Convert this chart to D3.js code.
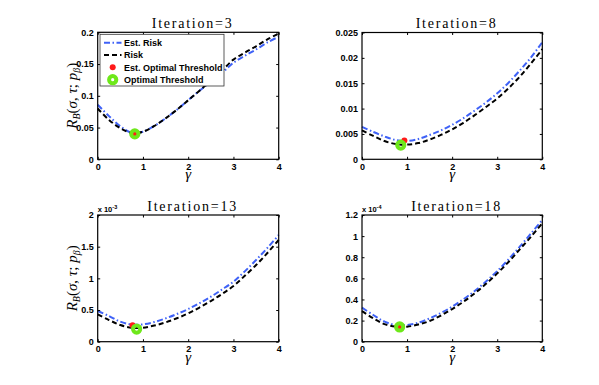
<!DOCTYPE html>
<html><head><meta charset="utf-8">
<script src="https://cdn.jsdelivr.net/npm/d3@7"></script>
<style>
html,body{margin:0;padding:0;background:#fff;}
svg{display:block;}
</style></head>
<body>
<script>
// ---------- data ----------
const gamma = [0,0.25,0.5,0.75,1,1.25,1.5,1.75,2,2.25,2.5,2.75,3,3.25,3.5,3.75,4];
const titles = ["Iteration=3","Iteration=8","Iteration=13","Iteration=18"];
const xTicks = [0,1,2,3,4];
// iteration 3
const risk3    = [0.080,0.062,0.049,0.0415,0.0435,0.0525,0.0645,0.078,0.093,0.108,0.124,0.140,0.157,0.168,0.178,0.189,0.198];
const estRisk3 = [0.086,0.068,0.052,0.042,0.0435,0.0525,0.0645,0.078,0.093,0.108,0.122,0.136,0.152,0.163,0.173,0.184,0.193];
// iteration 8
const risk8    = [0.0057,0.0046,0.0036,0.0030,0.0029,0.0032,0.0039,0.0048,0.0059,0.0072,0.0087,0.0103,0.0120,0.0140,0.0163,0.0189,0.0217];
const estRisk8 = [0.0064,0.0054,0.0045,0.0038,0.0036,0.0040,0.0048,0.0057,0.0068,0.0081,0.0096,0.0112,0.0130,0.0151,0.0175,0.0201,0.0231];
// iteration 13 (x 10^-3)
const risk13    = [0.43,0.342,0.263,0.222,0.221,0.255,0.305,0.37,0.447,0.54,0.642,0.755,0.879,1.04,1.21,1.40,1.605];
const estRisk13 = [0.484,0.405,0.316,0.272,0.274,0.31,0.368,0.437,0.516,0.608,0.71,0.825,0.947,1.11,1.29,1.48,1.684];
// iteration 18 (x 10^-4)
const risk18    = [0.29,0.221,0.167,0.143,0.142,0.163,0.196,0.248,0.309,0.378,0.458,0.548,0.647,0.755,0.875,0.995,1.121];
const estRisk18 = [0.322,0.253,0.19,0.158,0.158,0.18,0.221,0.272,0.332,0.402,0.48,0.57,0.669,0.78,0.9,1.025,1.153];
// thresholds [gamma, value]
const estOpt = [[0.82,0.040],[0.94,0.0037],[0.77,0.26],[0.835,0.14]];
const opt    = [[0.82,0.040],[0.86,0.0028],[0.86,0.20],[0.835,0.14]];
const yTicks = [
  [0,0.05,0.1,0.15,0.2],
  [0,0.005,0.01,0.015,0.02,0.025],
  [0,0.5,1,1.5,2],
  [0,0.2,0.4,0.6,0.8,1,1.2]
];
const yTickLabels = [
  ["0","0.05","0.1","0.15","0.2"],
  ["0","0.005","0.01","0.015","0.02","0.025"],
  ["0","0.5","1","1.5","2"],
  ["0","0.2","0.4","0.6","0.8","1","1.2"]
];
const exponents = [null,null,"-3","-4"];
const legendLabels = ["Est. Risk","Risk","Est. Optimal Threshold","Optimal Threshold"];
const risks = [risk3,risk8,risk13,risk18];
const estRisks = [estRisk3,estRisk8,estRisk13,estRisk18];

// ---------- layout ----------
const W=599,H=385;
const boxes = [
  {l:97.7,r:278.7,t:32.3,b:159.3},
  {l:362,r:542.3,t:32.5,b:159.3},
  {l:97.7,r:278.7,t:215,b:341.7},
  {l:362,r:542.3,t:215,b:341.7}
];
const BLUE="#3f62f7", GREEN="#6ee81a", RED="#ff1a1a";

const svg = d3.select("body").append("svg").attr("width",W).attr("height",H)
  .style("font-family","'Liberation Sans',Arial,sans-serif");

boxes.forEach((bx,i)=>{
  const x = d3.scaleLinear().domain([0,4]).range([bx.l,bx.r]);
  const yt = yTicks[i];
  const y = d3.scaleLinear().domain([0,yt[yt.length-1]]).range([bx.b,bx.t]);
  const g = svg.append("g");

  // curves
  const line = d3.line().x((d,k)=>x(gamma[k])).y(d=>y(d)).curve(d3.curveCatmullRom.alpha(0.5));
  g.append("path").datum(estRisks[i]).attr("d",line).attr("fill","none")
    .attr("stroke",BLUE).attr("stroke-width",2).attr("stroke-dasharray","6,2.5,1.5,2.5");
  g.append("path").datum(risks[i]).attr("d",line).attr("fill","none")
    .attr("stroke","#000").attr("stroke-width",2).attr("stroke-dasharray","5,3");

  // markers
  g.append("circle").attr("cx",x(estOpt[i][0])).attr("cy",y(estOpt[i][1])).attr("r",3).attr("fill",RED);
  g.append("circle").attr("cx",x(opt[i][0])).attr("cy",y(opt[i][1])).attr("r",3.6)
    .attr("fill","none").attr("stroke",GREEN).attr("stroke-width",4);

  // axes (MATLAB style: inward ticks on all sides)
  const tl=2.5;
  const axB = d3.axisBottom(x).tickValues(xTicks).tickSizeInner(-tl).tickSizeOuter(0).tickPadding(4).tickFormat(d3.format("d"));
  const axT = d3.axisTop(x).tickValues(xTicks).tickSizeInner(-tl).tickSizeOuter(0).tickFormat("");
  const axL = d3.axisLeft(y).tickValues(yt).tickSizeInner(-tl).tickSizeOuter(0).tickPadding(4).tickFormat((d,k)=>yTickLabels[i][k]);
  const axR = d3.axisRight(y).tickValues(yt).tickSizeInner(-tl).tickSizeOuter(0).tickFormat("");
  [[axB,`translate(0,${bx.b})`],[axT,`translate(0,${bx.t})`],[axL,`translate(${bx.l},0)`],[axR,`translate(${bx.r},0)`]]
   .forEach(([ax,tr])=>{
     const a = g.append("g").attr("transform",tr).call(ax);
     a.select(".domain").remove();
     a.selectAll("line").attr("stroke","#000").attr("stroke-width",1);
     a.selectAll("text").attr("fill","#000").style("font-size","9px").style("font-weight","bold")
       .style("font-family","'Liberation Sans',Arial,sans-serif");
   });
  g.append("rect").attr("x",bx.l).attr("y",bx.t).attr("width",bx.r-bx.l).attr("height",bx.b-bx.t)
    .attr("fill","none").attr("stroke","#000").attr("stroke-width",1.2);

  // title
  g.append("text").attr("x",(bx.l+bx.r)/2+3.5).attr("y",bx.t-4.5).attr("text-anchor","middle")
    .style("font-family","'Liberation Serif','Times New Roman',serif").style("font-size","14px")
    .attr("textLength", i<2?80:89).attr("lengthAdjust","spacing").text(titles[i]);

  // x label
  g.append("text").attr("x",(bx.l+bx.r)/2).attr("y",bx.b+20).attr("text-anchor","middle")
    .style("font-family","'Liberation Serif',serif").style("font-style","italic").style("font-size","15px")
    .text("γ");

  // y label on left panels
  if(i%2===0){
    const t = g.append("text").attr("transform",`translate(${bx.l-21},${(bx.t+bx.b)/2}) rotate(-90)`)
      .attr("text-anchor","middle")
      .style("font-family","'Liberation Serif',serif").style("font-size","15px").style("font-style","italic");
    t.append("tspan").text("R");
    t.append("tspan").attr("dy",3).style("font-size","10px").text("B");
    t.append("tspan").attr("dy",-3).style("font-style","normal").text("(");
    t.append("tspan").text("σ");
    t.append("tspan").style("font-style","normal").text(", ");
    t.append("tspan").text("τ");
    t.append("tspan").style("font-style","normal").text("; ");
    t.append("tspan").text("p");
    t.append("tspan").attr("dy",3).style("font-size","10px").text("β");
    t.append("tspan").attr("dy",-3).style("font-style","normal").text(")");
  }

  // exponent
  if(exponents[i]){
    const e = g.append("text").attr("x",bx.l).attr("y",bx.t-3)
      .style("font-size","7.5px").style("font-weight","bold");
    e.append("tspan").text("x 10");
    e.append("tspan").attr("dy",-3).style("font-size","5.5px").text(exponents[i]);
  }

  // legend in first panel
  if(i===0){
    const lg = g.append("g");
    lg.append("rect").attr("x",100).attr("y",34.3).attr("width",124).attr("height",51.7)
      .attr("fill","#fff").attr("stroke","#333").attr("stroke-width",0.8);
    const rows=[42.7,55,67.3,79.7];
    legendLabels.forEach((lab,k)=>{
      const cy=rows[k];
      if(k===0) lg.append("line").attr("x1",104).attr("x2",121.5).attr("y1",cy).attr("y2",cy)
        .attr("stroke",BLUE).attr("stroke-width",2).attr("stroke-dasharray","6,2.5,1.5,2.5");
      if(k===1) lg.append("line").attr("x1",104).attr("x2",121.5).attr("y1",cy).attr("y2",cy)
        .attr("stroke","#000").attr("stroke-width",2).attr("stroke-dasharray","5,3");
      if(k===2) lg.append("circle").attr("cx",112.7).attr("cy",cy).attr("r",3).attr("fill",RED);
      if(k===3) lg.append("circle").attr("cx",112.7).attr("cy",cy).attr("r",3.6)
        .attr("fill","none").attr("stroke",GREEN).attr("stroke-width",4);
      lg.append("text").attr("x",124).attr("y",cy+3.2).style("font-size","9px").style("font-weight","bold").text(lab);
    });
  }
});
</script>
</body></html>
